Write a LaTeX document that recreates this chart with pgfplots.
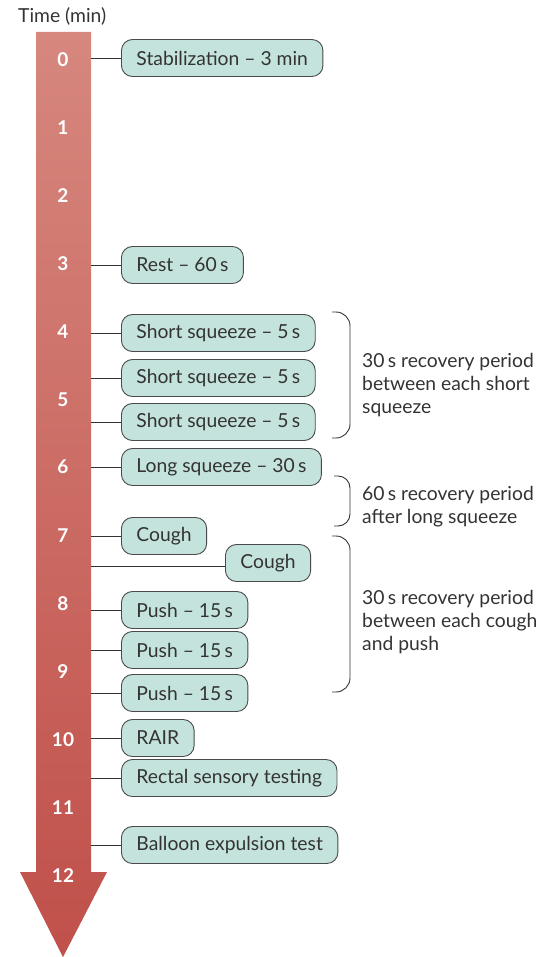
\documentclass[border=0pt]{standalone}
\usepackage{fontspec}
\setmainfont{Lato}
\usepackage{pgfplots}
\pgfplotsset{compat=1.18}
\definecolor{boxfill}{HTML}{C4E3DC}
\definecolor{boxdraw}{HTML}{4A4A4A}
\definecolor{txt}{HTML}{333333}
\definecolor{arrtop}{HTML}{D6877E}
\definecolor{arrbot}{HTML}{C0504A}
\begin{document}
\begin{tikzpicture}
\begin{axis}[scale only axis, width=558pt, height=957pt,
  xmin=0, xmax=558, ymin=0, ymax=957, y dir=reverse,
  hide axis, clip=false]
% arrow
\addplot[draw=none, top color=arrtop, bottom color=arrbot]
  coordinates {(36,32) (91,32) (91,872) (107,872) (63,957) (20,872) (36,872)} -- cycle;
% connectors
\addplot[txt, line width=0.9pt, unbounded coords=jump] coordinates {
 (91,58)(121,58) (nan,nan)
 (91,265)(121,265) (nan,nan)
 (91,333)(121,333) (nan,nan)
 (91,378)(121,378) (nan,nan)
 (91,422)(121,422) (nan,nan)
 (91,467)(121,467) (nan,nan)
 (91,536)(121,536) (nan,nan)
 (91,566)(225,566) (nan,nan)
 (91,610)(121,610) (nan,nan)
 (91,650)(121,650) (nan,nan)
 (91,693)(121,693) (nan,nan)
 (91,738)(121,738) (nan,nan)
 (91,778)(121,778) (nan,nan)
 (91,845)(121,845)
};
% brackets
\addplot[txt, line width=0.9pt, rounded corners=14pt] coordinates {(332,312)(350,312)(350,438)(332,438)};
\addplot[txt, line width=0.9pt, rounded corners=12pt] coordinates {(334,476)(350,476)(350,526)(334,526)};
\addplot[txt, line width=0.9pt, rounded corners=14pt] coordinates {(332,536)(350,536)(350,692)(332,692)};
% boxes
\addplot[draw=none, mark=none, point meta=explicit symbolic, nodes near coords,
  every node near coord/.append style={anchor=west, draw=boxdraw, fill=boxfill,
    rounded corners=11pt, minimum height=37pt, inner xsep=15pt, text=txt,
    line width=0.9pt, font=\fontsize{19.3}{22}\selectfont}]
 coordinates {
 (121,58) [Stabilization – 3 min]
 (121,265) [Rest – 60\,s]
 (121,333) [Short squeeze – 5\,s]
 (121,378) [Short squeeze – 5\,s]
 (121,422) [Short squeeze – 5\,s]
 (121,467) [Long squeeze – 30\,s]
 (121,536) [Cough]
 (225,563) [Cough]
 (121,610) [Push – 15\,s]
 (121,650) [Push – 15\,s]
 (121,693) [Push – 15\,s]
 (121,738) [RAIR]
 (121,778) [Rectal sensory testing]
 (121,845) [Balloon expulsion test]
};
% time numbers
\addplot[draw=none, mark=none, point meta=explicit symbolic, nodes near coords,
  every node near coord/.append style={anchor=center, text=white,
    font=\fontsize{19}{22}\selectfont\bfseries}]
 coordinates {
 (63,60)[0] (63,128)[1] (63,196)[2] (63,264)[3] (63,332)[4] (63,400)[5]
 (63,467)[6] (63,536)[7] (63,604)[8] (63,672)[9] (63,740)[10] (63,808)[11] (63,876)[12]
};
% side texts
\addplot[draw=none, mark=none, point meta=explicit symbolic, nodes near coords,
  every node near coord/.append style={anchor=base west, text=txt, inner sep=0pt,
    font=\fontsize{19.3}{22}\selectfont}]
 coordinates {
 (18,23)[Time (min)]
 (362,367)[30\,s recovery period]
 (362,390)[between each short]
 (362,413)[squeeze]
 (362,500)[60\,s recovery period]
 (362,523)[after long squeeze]
 (362,604)[30\,s recovery period]
 (362,627)[between each cough]
 (362,650)[and push]
};
\end{axis}
\pgfresetboundingbox
\path (0,0) rectangle (558pt,957pt);
\end{tikzpicture}
\end{document}
